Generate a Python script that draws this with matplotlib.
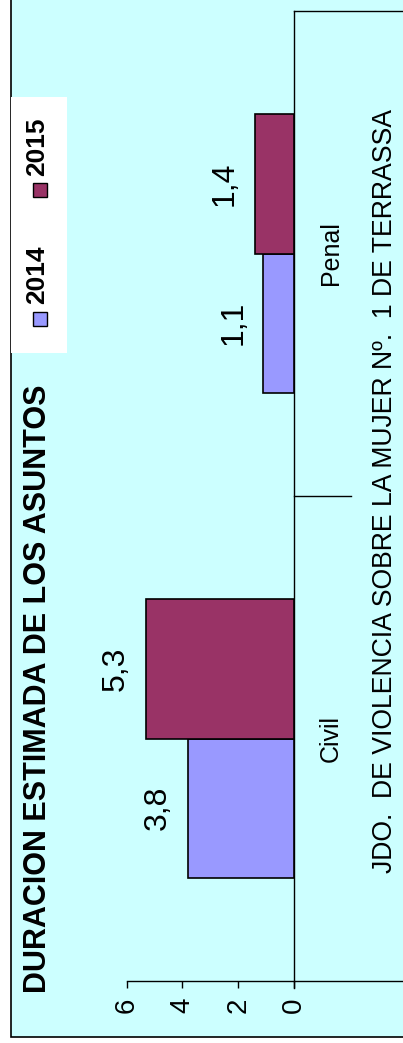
import matplotlib
matplotlib.use("Agg")
import matplotlib.pyplot as plt
import matplotlib.transforms as mtransforms
import numpy as np
from matplotlib.patches import Rectangle

plt.rcParams["font.family"] = ["Liberation Sans", "DejaVu Sans"]

# data
categories = ["Civil", "Penal"]
years = ["2014", "2015"]
values_2014 = [3.8, 1.1]
values_2015 = [5.3, 1.4]
labels_2014 = ["3,8", "1,1"]
labels_2015 = ["5,3", "1,4"]
value_ticks = [0, 2, 4, 6]
title = "DURACION ESTIMADA DE LOS ASUNTOS"
court = "JDO.  DE VIOLENCIA SOBRE LA MUJER Nº.  1 DE TERRASSA"

colors = ["#9999FF", "#993366"]
W, H = 403, 1043


def fx(x):
    return x / W


def fy(y):
    return 1 - y / H


fig = plt.figure(figsize=(W / 100, H / 100), dpi=100)
fig.patch.set_facecolor("white")

# chart area (the whole chart is turned a quarter turn)
fig.patches.append(Rectangle((fx(10.7), fy(1037)), 1.2, 1.2, transform=fig.transFigure,
                             facecolor="#CCFFFF", edgecolor="black", lw=1.2, zorder=-2))

ax = fig.add_axes([fx(126.7), fy(981), (294 - 126.7) / W, 970 / H])
ax.set_facecolor("none")

bar_h = 0.2866
y = np.arange(len(categories))
series = [(values_2014, labels_2014), (values_2015, labels_2015)]
for i, (vals, labs) in enumerate(series):
    pos = y + (i - 0.5) * bar_h
    ax.barh(pos, vals, height=bar_h, color=colors[i], edgecolor="black", lw=1.2, zorder=3)
    for v, p, lab in zip(vals, pos, labs):
        ax.annotate(lab, (v, p), xytext=(-30, 0), textcoords="offset pixels",
                    rotation=90, ha="center", va="center", fontsize=23)

ax.set_xlim(6, 0)
ax.set_ylim(-0.5, 1.5)
ax.set_xticks(value_ticks)
ax.set_xticklabels([str(t) for t in value_ticks], rotation=90, fontsize=20)
ax.tick_params(axis="x", direction="out", length=5, width=1, pad=7)
ax.set_yticks([])
for s in ["top", "left", "bottom"]:
    ax.spines[s].set_visible(False)
ax.spines["right"].set_linewidth(1)

trans = mtransforms.blended_transform_factory(ax.transAxes, ax.transData)
ax.plot([0, 1.8], [-0.5, -0.5], transform=trans, color="black", lw=1, clip_on=False)
ax.plot([1, 1.8], [1.5, 1.5], transform=trans, color="black", lw=1, clip_on=False)
ax.plot([1, 1 + 57 / 167.3], [0.5, 0.5], transform=trans, color="black", lw=1, clip_on=False)
ax.plot([1, 1], [-0.5, -0.5 - 7 / 485], transform=trans, color="black", lw=1, clip_on=False)

for yi, cat in zip(y, categories):
    ax.text((331 - 126.7) / 167.3, yi, cat, transform=trans, rotation=90,
            ha="center", va="center", fontsize=18)

fig.text(fx(38), fy(689), title, rotation=90, ha="center", va="center",
         fontsize=22, fontweight="bold")
fig.text(fx(385), fy(491), court, rotation=90, ha="center", va="center", fontsize=19.2)

# legend
fig.patches.append(Rectangle((fx(10.7), fy(353)), (67 - 10.7) / W, (353 - 97) / H,
                             transform=fig.transFigure, facecolor="white",
                             edgecolor="none", zorder=-1))
marker_y = [318.5, 190]
text_y = [274.5, 146.5]
for i, yr in enumerate(years):
    fig.patches.append(Rectangle((fx(32.5), fy(marker_y[i] + 7)), 14 / W, 14 / H,
                                 transform=fig.transFigure, facecolor=colors[i],
                                 edgecolor="black", lw=1))
    fig.text(fx(37.5), fy(text_y[i]), yr, rotation=90, ha="center", va="center",
             fontsize=19, fontweight="bold")

fig.savefig("out.png", dpi=100)
